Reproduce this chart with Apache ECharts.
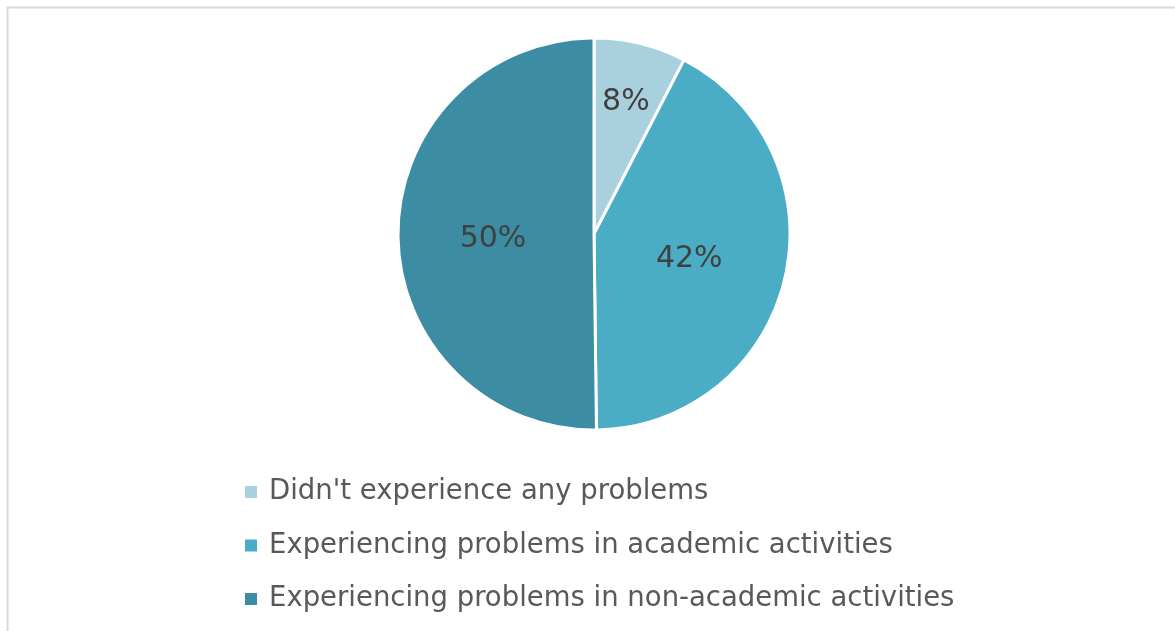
<!DOCTYPE html>
<html><head><meta charset="utf-8">
<script src="https://cdn.jsdelivr.net/npm/echarts@6/dist/echarts.min.js"></script>
<style>html,body{margin:0;padding:0;background:#fff}#c{width:1175px;height:631px}</style>
</head><body><div id="c"></div>
<script>
const categories = ["Didn't experience any problems", "Experiencing problems in academic activities", "Experiencing problems in non-academic activities"];
const values = [7.6, 42.2, 50.2];
const colors = ['#A9D0DD', '#4BACC6', '#3C8CA3'];

const chart = echarts.init(document.getElementById('c'), null, {renderer: 'canvas'});
chart.setOption({
  backgroundColor: '#fff',
  animation: false,
  graphic: [{
    type: 'rect', shape: {x: 7.5, y: 7.5, width: 1200, height: 700},
    style: {fill: 'none', stroke: '#D9D9D9', lineWidth: 2}, silent: true, z: -1
  }],
  legend: {
    orient: 'vertical', left: 243, top: 477, padding: 0,
    icon: 'rect', itemWidth: 14, itemHeight: 14, itemGap: 23.5,
    textStyle: {fontFamily: 'DejaVu Sans', fontSize: 27.5, color: '#595959', lineHeight: 30, padding: [0, 0, 0, 6]},
    data: categories
  },
  series: [{
    type: 'pie', center: [594, 234], radius: [0, 196], startAngle: 90, clockwise: true,
    percentPrecision: 0,
    data: categories.map((n, i) => ({name: n, value: values[i], itemStyle: {color: colors[i]}})),
    itemStyle: {borderColor: '#fff', borderWidth: 3},
    label: {position: 'inside', formatter: '{d}%', fontFamily: 'DejaVu Sans', fontSize: 30, color: '#404040'},
    labelLine: {show: false},
    labelLayout: function (p) {
      if (p.dataIndex === 0) return {dx: 8, dy: -34};
      if (p.dataIndex === 1) return {dx: -3, dy: 2};
      if (p.dataIndex === 2) return {dy: 5};
      return {};
    }
  }]
});
</script></body></html>
